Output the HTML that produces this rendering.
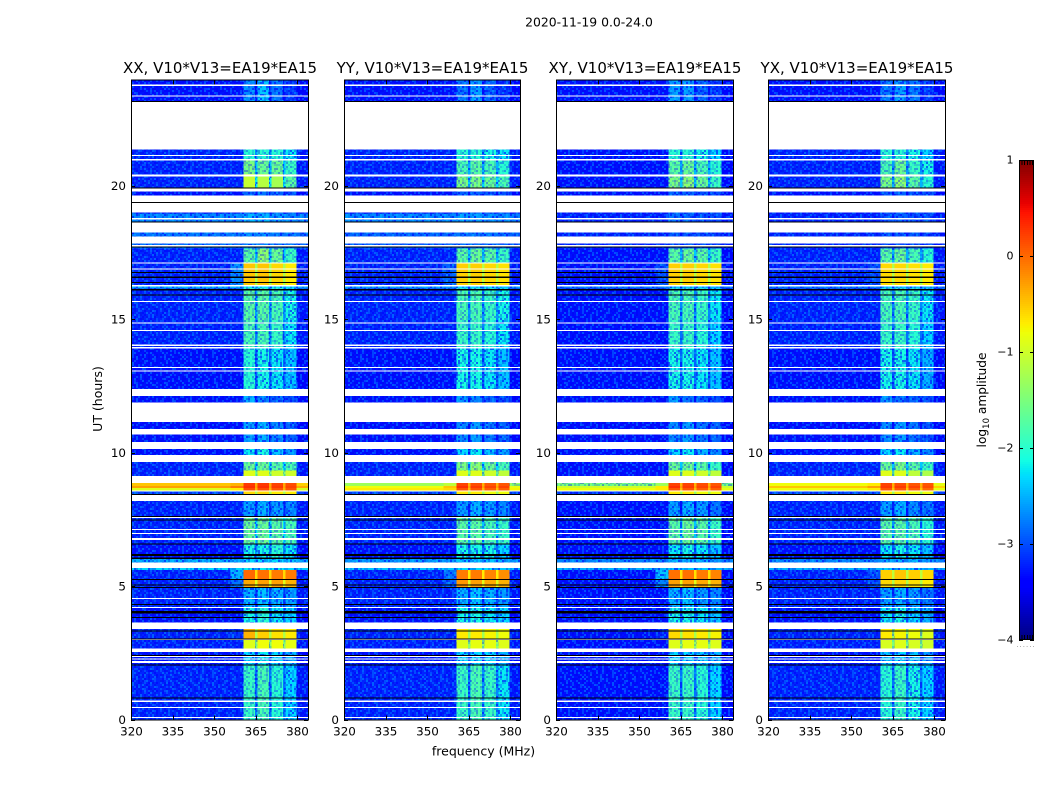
<!DOCTYPE html>
<html>
<head>
<meta charset="utf-8">
<title>2020-11-19 dynamic spectra</title>
<style>
html,body{margin:0;padding:0;background:#fff;width:1050px;height:800px;overflow:hidden}
svg{display:block}
text{font-family:"DejaVu Sans","Liberation Sans",sans-serif;fill:#000}
</style>
</head>
<body>
<svg id="chart" xmlns="http://www.w3.org/2000/svg" width="1050" height="800" viewBox="0 0 1050 800">
  <rect x="0" y="0" width="1050" height="800" fill="#fff"/>
  <text x="589" y="26.5" font-size="12.4" text-anchor="middle">2020-11-19 0.0-24.0</text>
  <text x="483.5" y="755.5" font-size="12.5" text-anchor="middle">frequency (MHz)</text>
  <text x="0" y="0" font-size="12.5" text-anchor="middle" transform="translate(102,399) rotate(-90)">UT (hours)</text>
  <text x="0" y="0" font-size="12.2" text-anchor="middle" transform="translate(986,400) rotate(-90)">log<tspan font-size="8.5" dy="3">10</tspan><tspan dy="-3"> amplitude</tspan></text>
  <defs id="defs"></defs>
</svg>
<script>
// ---- chart data ----
const panelNames = ['XX', 'YY', 'XY', 'YX'];
const xTickValues = [320, 335, 350, 365, 380];
const yTickValues = [0, 5, 10, 15, 20];
const colorbarTickValues = [1, 0, -1, -2, -3, -4];
const colorbarMinorTicks = [1, 2, 3, 4, 5];

// frequency channel edges, MHz
const channelEdges = [320, 356, 360.6, 364.8, 365.8, 369.9, 370.8, 375, 375.9, 379.9, 384];
// time interval edges, hours (top to bottom)
const levelEdges = [24, 23.2, 21.41, 21.0, 20.5, 19.9, 19.0, 18.3, 17.7, 17.16, 16.33, 16.2, 15.0, 14.0, 12.42, 11.9, 11.18, 10.17, 9.68, 9.35, 9.15, 8.78, 8.7, 8.6, 8.44, 7.65, 6.62, 6.03, 5.85, 5.62, 5.27, 4.95, 4.23, 3.64, 3.05, 2.66, 2.02, 0];

// log10 amplitude per interval: [background, shoulder, band1, band2, band3, band4]
const levelsXX = [
[-3.3,-3.3,-2.7,-2.4,-2.8,-3.1],[-3.3,-3.3,-2.7,-2.4,-2.8,-3.1],[-3.2,-3.2,-2.0,-2.0,-2.0,-2.2],[-3.2,-3.2,-1.5,-1.6,-1.6,-1.9],
[-3.2,-3.2,-1.05,-1.15,-1.25,-1.7],[-3.3,-3.3,-2.9,-2.8,-2.9,-3.0],[-2.7,-2.7,-2.5,-2.5,-2.6,-2.7],[-2.8,-2.8,-2.7,-2.7,-2.8,-2.8],
[-3.2,-3.2,-1.7,-1.4,-1.6,-1.9],[-3.2,-2.7,-0.5,-0.5,-0.6,-0.7],[-2.5,-2.5,-2.2,-2.2,-2.2,-2.3],[-3.2,-3.2,-1.7,-1.7,-1.8,-2.1],
[-3.2,-3.2,-1.8,-1.8,-1.9,-2.2],[-3.3,-3.3,-2.0,-2.1,-2.2,-2.4],[-3.3,-3.3,-2.5,-2.7,-2.9,-3.0],[-3.3,-3.3,-2.5,-2.7,-2.9,-3.0],
[-3.3,-3.3,-2.6,-2.5,-2.7,-2.9],[-3.3,-3.3,-2.2,-2.1,-2.4,-2.6],[-3.2,-3.2,-1.6,-1.6,-1.7,-1.8],[-3.2,-3.2,-0.9,-0.9,-1.0,-1.0],
[-0.5,-0.4,0.25,0.25,0.2,0.15],[-0.3,-0.1,0.3,0.3,0.25,0.2],[-0.9,-0.7,0.15,0.15,0.1,0.1],[-3.0,-3.0,-0.6,-0.6,-0.7,-0.7],
[-3.2,-3.2,-2.6,-2.5,-2.6,-2.7],[-3.2,-3.2,-1.6,-1.6,-1.7,-1.8],[-3.3,-3.3,-2.1,-2.1,-2.0,-2.2],[-2.5,-2.5,-2.3,-2.3,-2.3,-2.4],
[-2.3,-2.3,-2.2,-2.2,-2.2,-2.3],[-3.2,-2.5,0.0,-0.05,-0.1,-0.1],[-3.2,-2.8,-0.35,-0.3,-0.3,-0.4],[-3.2,-3.2,-2.5,-2.4,-2.5,-2.6],
[-3.3,-3.3,-2.1,-2.0,-2.2,-2.3],[-3.2,-3.1,-0.4,-0.55,-0.65,-0.7],[-3.2,-3.2,-0.9,-0.8,-0.8,-0.85],[-3.3,-3.3,-2.3,-2.2,-2.3,-2.5],
[-3.2,-3.2,-1.9,-1.8,-2.0,-2.3]];
const levelsYY = [
[-3.3,-3.3,-2.8,-2.6,-2.9,-3.1],[-3.3,-3.3,-2.8,-2.6,-2.9,-3.1],[-3.2,-3.2,-2.0,-2.0,-2.1,-2.2],[-3.2,-3.2,-1.8,-1.7,-1.8,-2.0],
[-3.2,-3.2,-1.5,-1.5,-1.6,-1.8],[-3.3,-3.3,-2.9,-2.9,-3.0,-3.0],[-2.7,-2.7,-2.6,-2.6,-2.7,-2.7],[-2.9,-2.9,-2.8,-2.8,-2.8,-2.9],
[-3.2,-3.2,-1.7,-1.6,-1.7,-1.9],[-3.2,-2.9,-0.55,-0.55,-0.6,-0.65],[-2.6,-2.6,-2.3,-2.3,-2.3,-2.4],[-3.2,-3.2,-1.8,-1.8,-1.9,-2.1],
[-3.2,-3.2,-1.9,-1.9,-2.0,-2.2],[-3.3,-3.3,-2.1,-2.1,-2.2,-2.4],[-3.3,-3.3,-2.6,-2.7,-2.9,-3.0],[-3.3,-3.3,-2.6,-2.7,-2.9,-3.0],
[-3.3,-3.3,-2.7,-2.6,-2.8,-2.9],[-3.3,-3.3,-2.3,-2.2,-2.4,-2.6],[-3.2,-3.2,-1.5,-1.4,-1.6,-1.8],[-3.2,-3.2,-0.9,-0.9,-1.0,-1.1],
[-1.3,-1.1,0.2,0.15,0.1,0.1],[-0.8,-0.5,0.3,0.25,0.2,0.2],[-0.7,-0.6,0.1,0.1,0.05,0.05],[-3.0,-3.0,-0.7,-0.7,-0.8,-0.8],
[-3.2,-3.2,-2.6,-2.5,-2.6,-2.7],[-3.2,-3.2,-1.7,-1.7,-1.8,-1.9],[-3.3,-3.3,-2.1,-2.1,-2.1,-2.3],[-2.6,-2.6,-2.4,-2.4,-2.4,-2.5],
[-2.4,-2.4,-2.3,-2.3,-2.3,-2.4],[-3.2,-2.8,-0.1,-0.1,-0.15,-0.2],[-3.2,-2.9,-0.25,-0.3,-0.35,-0.4],[-3.2,-3.2,-2.5,-2.4,-2.5,-2.6],
[-3.3,-3.3,-2.1,-2.1,-2.2,-2.3],[-3.2,-3.2,-0.7,-0.7,-0.75,-0.8],[-3.2,-3.2,-0.9,-0.85,-0.85,-0.9],[-3.3,-3.3,-2.3,-2.3,-2.3,-2.5],
[-3.2,-3.2,-1.9,-1.8,-1.9,-2.2]];
const levelsXY = [
[-3.3,-3.3,-2.6,-2.6,-2.9,-3.1],[-3.3,-3.3,-2.6,-2.6,-2.9,-3.1],[-3.3,-3.3,-2.0,-2.0,-2.1,-2.3],[-3.3,-3.3,-1.7,-1.6,-1.8,-2.0],
[-3.3,-3.3,-1.5,-1.4,-1.6,-1.9],[-3.3,-3.3,-2.9,-2.9,-3.0,-3.0],[-3.2,-3.2,-2.8,-2.9,-3.0,-3.0],[-3.2,-3.2,-3.0,-3.0,-3.0,-3.1],
[-3.3,-3.3,-1.7,-1.6,-1.7,-1.9],[-3.3,-3.0,-0.55,-0.55,-0.6,-0.65],[-2.8,-2.8,-2.4,-2.4,-2.4,-2.5],[-3.3,-3.3,-1.8,-1.8,-1.9,-2.2],
[-3.3,-3.3,-1.9,-1.9,-2.0,-2.3],[-3.3,-3.3,-2.1,-2.1,-2.2,-2.4],[-3.3,-3.3,-2.6,-2.8,-2.9,-3.0],[-3.3,-3.3,-2.6,-2.8,-2.9,-3.0],
[-3.3,-3.3,-2.7,-2.6,-2.8,-2.9],[-3.3,-3.3,-2.3,-2.2,-2.5,-2.7],[-3.3,-3.3,-1.6,-1.6,-1.7,-1.9],[-3.3,-3.3,-0.9,-0.9,-1.0,-1.1],
[-1.5,-1.3,0.2,0.2,0.15,0.1],[-1.0,-0.7,0.3,0.25,0.2,0.2],[-0.8,-0.7,0.1,0.1,0.05,0.05],[-3.1,-3.1,-0.7,-0.7,-0.8,-0.8],
[-3.3,-3.3,-2.6,-2.5,-2.6,-2.8],[-3.3,-3.3,-1.7,-1.6,-1.7,-1.9],[-3.3,-3.3,-2.2,-2.1,-2.2,-2.4],[-2.7,-2.7,-2.5,-2.5,-2.5,-2.6],
[-2.5,-2.5,-2.4,-2.4,-2.4,-2.5],[-3.3,-2.4,-0.05,-0.05,-0.1,-0.15],[-3.3,-2.7,-0.3,-0.3,-0.35,-0.4],[-3.3,-3.3,-2.5,-2.4,-2.6,-2.7],
[-3.3,-3.3,-2.1,-2.1,-2.2,-2.4],[-3.3,-3.2,-0.6,-0.65,-0.7,-0.75],[-3.3,-3.3,-0.9,-0.85,-0.85,-0.9],[-3.3,-3.3,-2.3,-2.3,-2.4,-2.5],
[-3.3,-3.3,-1.9,-1.9,-2.0,-2.3]];
const levelsYX = [
[-3.3,-3.3,-2.8,-2.6,-2.8,-3.1],[-3.3,-3.3,-2.8,-2.6,-2.8,-3.1],[-3.2,-3.2,-2.0,-2.0,-2.1,-2.3],[-3.2,-3.2,-1.8,-1.6,-1.9,-2.1],
[-3.2,-3.2,-1.5,-1.4,-1.7,-2.0],[-3.3,-3.3,-3.0,-2.9,-3.0,-3.0],[-3.2,-3.2,-3.0,-2.9,-3.0,-3.0],[-3.2,-3.2,-3.0,-3.0,-3.0,-3.1],
[-3.2,-3.2,-1.7,-1.6,-1.8,-2.0],[-3.2,-3.0,-0.6,-0.6,-0.65,-0.7],[-2.8,-2.8,-2.4,-2.4,-2.4,-2.5],[-3.2,-3.2,-1.8,-1.8,-1.9,-2.2],
[-3.2,-3.2,-1.9,-1.9,-2.0,-2.3],[-3.3,-3.3,-2.1,-2.1,-2.2,-2.5],[-3.3,-3.3,-2.6,-2.8,-2.9,-3.0],[-3.3,-3.3,-2.6,-2.8,-2.9,-3.0],
[-3.3,-3.3,-2.7,-2.6,-2.8,-3.0],[-3.3,-3.3,-2.3,-2.2,-2.5,-2.7],[-3.2,-3.2,-1.6,-1.5,-1.7,-1.9],[-3.2,-3.2,-0.9,-0.9,-1.1,-1.2],
[-0.8,-0.7,0.2,0.15,0.1,0.1],[-0.5,-0.3,0.25,0.25,0.2,0.15],[-0.8,-0.7,0.1,0.1,0.05,0.0],[-3.0,-3.0,-0.7,-0.7,-0.8,-0.8],
[-3.2,-3.2,-2.6,-2.5,-2.7,-2.8],[-3.2,-3.2,-1.7,-1.7,-1.8,-2.0],[-3.3,-3.3,-2.2,-2.1,-2.2,-2.4],[-2.7,-2.7,-2.5,-2.5,-2.5,-2.6],
[-2.5,-2.5,-2.4,-2.4,-2.4,-2.5],[-3.2,-3.0,-0.55,-0.5,-0.55,-0.6],[-3.2,-3.0,-0.6,-0.6,-0.65,-0.7],[-3.2,-3.2,-2.6,-2.5,-2.6,-2.8],
[-3.3,-3.3,-2.2,-2.1,-2.3,-2.5],[-3.2,-3.2,-0.7,-0.75,-0.8,-0.9],[-3.2,-3.2,-0.95,-0.9,-0.95,-1.0],[-3.3,-3.3,-2.4,-2.3,-2.4,-2.6],
[-3.2,-3.2,-2.0,-1.9,-2.1,-2.3]];

// flagged (no data) rows, hours [start, end]: shown white
const whiteRows = [[23.79,23.86],[23.40,23.44],[21.41,23.19],[21.17,21.20],[21.00,21.05],[20.39,20.47],[19.84,19.95],[19.44,19.69],[19.05,19.41],[18.79,18.84],[18.30,18.68],[17.88,18.14],[17.76,17.83],[17.13,17.16],[16.90,16.94],[16.26,16.33],[15.71,15.73],[14.87,14.91],[14.61,14.64],[14.04,14.08],[13.94,13.99],[13.21,13.25],[13.08,13.11],[12.16,12.42],[11.18,11.90],[10.70,10.92],[10.17,10.43],[9.68,9.94],[8.89,9.15],[8.58,8.60],[8.21,8.44],[7.58,7.61],[7.12,7.16],[6.96,7.00],[6.75,6.81],[5.70,5.89],[4.52,4.56],[4.18,4.23],[3.40,3.64],[3.00,3.03],[2.54,2.66],[2.35,2.40],[2.26,2.30],[2.12,2.19],[0.66,0.71],[0.43,0.47],[0.06,0.09]];
// below-scale rows, hours [start, end]: shown black
const blackRows = [[23.19,23.23],[19.95,19.99],[19.41,19.44],[18.68,18.71],[17.73,17.76],[16.77,16.81],[16.59,16.65],[16.40,16.44],[16.11,16.17],[15.92,15.96],[8.44,8.48],[7.61,7.65],[7.47,7.51],[6.60,6.62],[6.15,6.22],[6.03,6.08],[5.24,5.27],[5.06,5.08],[4.95,4.98],[4.32,4.34],[3.99,4.08],[3.83,3.85],[3.33,3.35],[3.03,3.05],[2.40,2.42],[2.02,2.06],[0.81,0.83]];

// ---- decorative pixel texture tile (not data) ----
const grainTile = [
"aab.d.cab..bda.a..cbd.aa.b.dc..ab.bad.a.",
".bdac..a.dbb.cd.ab..a.cb.da.bad.c.a..bd",
"d.a.bb.dca..a.b.cdda.b..ac.d.b.aab.cd.a",
"ba.cd.ab..dc.bba..c.ad.b.ba..dcb.d..a.b",
".dc.a.bdab..cd.a.bb.d.aac..bd.a.c.badd.",
"a.bbd.c..a.db.ac.d..abc.d.a.b.bd.a.c.ab",
"cd..ab.dba.c..bda.cb.d..ab.cad..bd.ab.c",
".ab.c.d.a.bbd.a.c..dab.ba.d.c.ab..d.cba",
"b.dac.b.ad..a.cbd.a..bd.c.abb.d.ca.b.d.",
"a.c..bda.cb.dab..c.adb.a..d.bc.a.dba.cb",
".bd.a.c..b.ad.c.abd..c.bda.a.b.dc.a..bd",
"da.b.cdab.a..dbc.a.b.ddac.b..a.bd.cba.a",
"b..cad.b.dca.b.a.dcb.a...bcda.b.a.d.b.c",
".acb.d.a..bd.ca.b.ad.cb.ad.b..ca.bd.a.d",
"cd.a.bb.cd.a.b.dac..ba.d.c.aab.d.b.ca.b",
"a.bd.c.ab.d.cba.d.ab.c.db.a..cd.a.bbd.a",
".c.ab.da.cb..d.a.bcd.a.b.dac.b..da.c.b.",
"bda..c.bd.a.ab.cd.b.a.dcb.a.d.abc.d.a.b",
"a.cbd.a..dbc.a.d.ba.c.b.d.a.cb.da.b..cd",
".ba.c.dbb.a.cd.a..bdac.a.b.dc..ab.d.ca.",
"db.a.c..ad.bba.c.db.a..cd.ba.b.dac.b.a.",
"a.dcb.ab.c.da.b.a.dcb.d.a.c..bd.a.bcd.b",
".cb.d.a.bdac..bd.ca.b.ad.bc.da.c.b.a.d.",
"bd.a.cb.d.a.c.ab.d.cb.a..d.abc.d.ab..ca",
"a..bd.ca.b.d.cba.d.a..bcda.b.d.ca.bd.b.",
".dac.b.d.ab.cd.a.bb.dc.a.b.ad.b.c.a.dab",
"cb.a.dab..c.d.abd.c.a.bd..cab.d.a.bc.d.",
"a.bd.c.a.db.ac.b.d.ab.c.da..bdc.b.a.d.c",
".d.ac.b.ba.d.c..abd.cb.a.db.a.c.d.ba.b.",
"bac.d.ab.c.db.a.d.ca.b..ad.cb.a.bd.c.ad",
".b.da.c.d.ab..cda.b.d.ac.b.a.d.cb.a.db.",
"d.ca.bb.a.dc.b.a.dbc.a.d.b.ca.bd.a.c.ba",
"ab.c.d.ab.d.a.cb..ad.cb.a.dbc.a..db.ca.",
".da.bc.d.a.cb.d.ab.c.a.db.a.c.bd.ab.d.c",
"c.b.a.db.c.a.dab.c.bd.a.c.db.a.c.da..bd",
"a.dbc.a.db.a.c.d.ba.c.d.ab.d.ca.b..dcab",
".bc.a.d.cb.ab.d.c.a.bd.ca.b.a.db.c.ad.b",
"dab.c.b.a.d.cb.a.dc.b.a.bd.c.ad.b.a.c.d",
"b.c.da.b.dac.b.a.d.bc.a.d.ab.c.b.da.cb.",
".a.db.c.a.b.da.cbd.a.c.b.da.c.bd.a.b.da"
];

// ---- layout ----
const panelLeft = [131, 344, 556, 768];
const panelWidthPx = [177, 176, 177, 177];
const panelLevels = [levelsXX, levelsYY, levelsXY, levelsYX];
const plotTop = 80.5, plotBottom = 719.5;
const SVGNS = 'http://www.w3.org/2000/svg';
const chart = document.getElementById('chart');

function jet(v) {
  const t = Math.max(0, Math.min(1, (v + 4) / 5));
  const interp = (pts) => {
    for (let i = 1; i < pts.length; i++) {
      if (t <= pts[i][0]) {
        const a = pts[i - 1], b = pts[i];
        return a[1] + (b[1] - a[1]) * (t - a[0]) / (b[0] - a[0]);
      }
    }
    return pts[pts.length - 1][1];
  };
  const r = interp([[0, 0], [.35, 0], [.66, 1], [.89, 1], [1, .5]]);
  const g = interp([[0, 0], [.125, 0], [.375, 1], [.64, 1], [.91, 0], [1, 0]]);
  const b = interp([[0, .5], [.11, 1], [.34, 1], [.65, 0], [1, 0]]);
  return 'rgb(' + Math.round(r * 255) + ',' + Math.round(g * 255) + ',' + Math.round(b * 255) + ')';
}
function shape(tag, parent, props) {
  const n = document.createElementNS(SVGNS, tag);
  for (const k in props) n.setAttribute(k, props[k]);
  parent.appendChild(n);
  return n;
}

// texture pattern
const pattern = shape('pattern', document.getElementById('defs'), {id: 'grain', patternUnits: 'userSpaceOnUse', width: 80, height: 80});
const grainColors = {a: 'rgba(0,115,255,0.5)', b: 'rgba(0,0,255,0.6)', c: 'rgba(0,205,255,0.35)', d: 'rgba(0,0,215,0.3)'};
grainTile.forEach(function (line, r) {
  for (let c = 0; c < line.length; c++) {
    if (!grainColors[line[c]]) continue;
    shape('rect', pattern, {x: c * 2, y: r * 2, width: 2, height: 2, fill: grainColors[line[c]]});
  }
});

panelNames.forEach(function (pname, p) {
  const left = panelLeft[p];
  const panelWidth = panelWidthPx[p];
  const levels = panelLevels[p];
  const xScale = (f) => left + (f - 320) * 166 / 60;
  const yScale = (h) => plotBottom - h * 26.62;
  const key = pname.toLowerCase();

  const g = shape('g', chart, {'shape-rendering': 'crispEdges'});
  
  

  levels.forEach(function (row, i) {
    const bandMin = Math.min(row[2], row[3], row[4], row[5]);
    const gap = Math.max(row[0], bandMin - 0.5);
    const cols = [row[0], row[1], row[2], gap, row[3], gap, row[4], gap, row[5], row[0] - 0.05];
    cols.forEach(function (val, c) {
      const y0 = Math.max(plotTop, yScale(levelEdges[i])), y1 = yScale(levelEdges[i + 1]);
      const x0 = xScale(channelEdges[c]), x1 = Math.min(left + panelWidth, xScale(channelEdges[c + 1]));
      const cell = shape('rect', g, {x: x0, y: y0, width: x1 - x0, height: y1 - y0 + 0.5, fill: jet(val)});
      
      
      if (val < -1.3) {
        const tex = shape('rect', g, {x: x0, y: y0, width: x1 - x0, height: y1 - y0 + 0.5, fill: 'url(#grain)', opacity: val < -2 ? 1 : 0.6});
        
        
      }
    });
  });

  whiteRows.forEach(function (r) {
    const y0 = yScale(r[1]), y1 = yScale(r[0]);
    const flag = shape('rect', g, {x: left, y: y0, width: panelWidth, height: Math.max(1, y1 - y0), fill: '#fff'});
    
    
  });
  blackRows.forEach(function (r) {
    const y0 = yScale(r[1]), y1 = yScale(r[0]);
    const flag = shape('rect', g, {x: left, y: y0, width: panelWidth, height: Math.max(1, y1 - y0), fill: '#000'});
    
    
  });

  xTickValues.forEach(function (v) {
    const x = Math.round(xScale(v)) + 0.5;
    const t1 = shape('line', g, {x1: x, x2: x, y1: plotBottom, y2: plotBottom - 4, stroke: '#000'});
    
    
    const t2 = shape('line', g, {x1: x, x2: x, y1: plotTop, y2: plotTop + 4, stroke: '#000'});
    
    
    const lab = shape('text', chart, {x: xScale(v) + 0.5, y: 735.7, 'font-size': 11.9, 'text-anchor': 'middle'});
    lab.textContent = String(v);
    
    
  });
  yTickValues.forEach(function (v) {
    const y = Math.round(plotBottom - v * 26.7) + 0.5;
    const t1 = shape('line', g, {x1: left, x2: left + 4, y1: y, y2: y, stroke: '#000'});
    
    
    const t2 = shape('line', g, {x1: left + panelWidth, x2: left + panelWidth - 4, y1: y, y2: y, stroke: '#000'});
    
    
    const lab = shape('text', chart, {x: left - 5, y: 724 - v * 26.7, 'font-size': 11.9, 'text-anchor': 'end'});
    lab.textContent = String(v);
    
    
  });

  const frame = shape('rect', g, {x: left + 0.5, y: plotTop - 0.5, width: panelWidth, height: plotBottom - plotTop + 1, fill: 'none', stroke: '#000'});
  
  

  const title = shape('text', chart, {x: left + panelWidth / 2 + 0.5, y: 73, 'font-size': 15, 'text-anchor': 'middle'});
  title.textContent = pname + ', V10*V13=EA19*EA15';
  
  
});

// ---- colorbar ----
const cbLeft = 1019, cbWidth = 15, cbTop = 160, cbBottom = 640;
const cbScale = (v) => cbBottom - (v + 4) * (cbBottom - cbTop) / 5;
const cb = shape('g', chart, {'shape-rendering': 'crispEdges'});


for (let py = cbTop; py < cbBottom; py += 2) {
  const v = 1 - (py + 1 - cbTop) * 5 / (cbBottom - cbTop);
  const swatch = shape('rect', cb, {x: cbLeft, y: py, width: cbWidth, height: 2, fill: jet(v)});
  
  
}
colorbarTickValues.forEach(function (v) {
  const y = Math.round(cbScale(v)) + 0.5;
  const a = shape('line', cb, {x1: cbLeft, x2: cbLeft + 4, y1: y, y2: y, stroke: '#000'});
  
  
  const b = shape('line', cb, {x1: cbLeft + cbWidth, x2: cbLeft + cbWidth - 4, y1: y, y2: y, stroke: '#000'});
  
  
  const lab = shape('text', chart, {x: 1013.5, y: cbScale(v) + 3.5, 'font-size': 11, 'text-anchor': 'end'});
  lab.textContent = v < 0 ? '\u2212' + Math.abs(v) : String(v);
  
  
});
colorbarMinorTicks.forEach(function (n) {
  const x = cbLeft + n * 2.6 + 0.5;
  const top = shape('line', cb, {x1: x, x2: x, y1: cbTop, y2: cbTop + 5, stroke: '#000'});
  
  
  const bot = shape('line', cb, {x1: x, x2: x, y1: cbBottom, y2: cbBottom - 5, stroke: '#000'});
  
  
});
const cbFrame = shape('rect', cb, {x: cbLeft + 0.5, y: cbTop + 0.5, width: cbWidth - 1, height: cbBottom - cbTop - 1, fill: 'none', stroke: '#000'});


const dots = shape('text', chart, {x: 1026, y: 647, 'font-size': 7, 'text-anchor': 'middle', style: 'fill:#888;letter-spacing:1px'});
dots.textContent = '......';


</script>
</body>
</html>
